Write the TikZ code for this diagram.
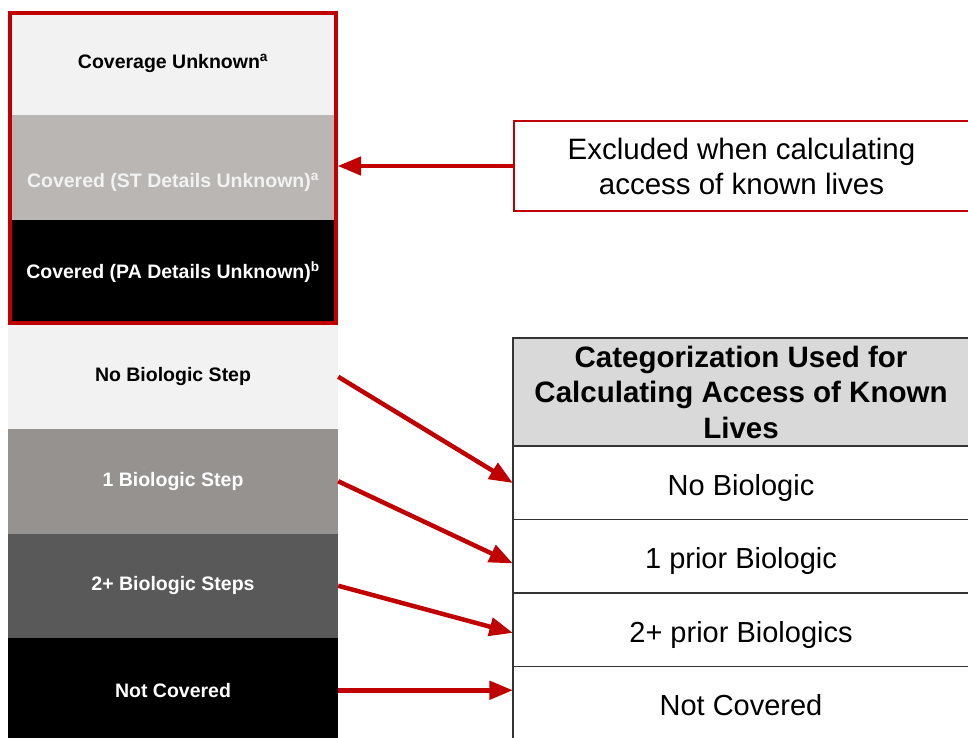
\documentclass[tikz,border=0pt]{standalone}
\usepackage{fontspec}
\setmainfont{Liberation Sans}
\usetikzlibrary{arrows,fit}

\definecolor{exred}{HTML}{C00000}
\definecolor{tierlight}{HTML}{F2F2F2}
\definecolor{tiergray}{HTML}{BAB6B4}
\definecolor{tiermid}{HTML}{96928F}
\definecolor{tierdark}{HTML}{595959}
\definecolor{hdrgray}{HTML}{D9D9D9}

\begin{document}
\begin{tikzpicture}[x=1pt,y=-1pt,
	tier/.style={rectangle, minimum width=330pt, minimum height=104.5pt, inner sep=0pt,
		font=\bfseries\fontsize{19.5}{23}\selectfont},
	catrow/.style={rectangle, draw=black!80, line width=1.2pt, fill=white,
		minimum width=456pt, minimum height=73.5pt, inner sep=0pt,
		text height=25pt, text depth=0pt, font=\fontsize{29}{35}\selectfont},
	link/.style={draw=exred, line width=4.5pt, -triangle 45}]
	\useasboundingbox (0,0) rectangle (968,738);
	\node[tier, fill=tierlight] (cu) at (173,63.25) {Coverage Unknown\textsuperscript{a}};
	\node[tier, fill=tiergray, text=tierlight, text height=44pt] (st) at (173,167.75) {Covered (ST Details Unknown)\textsuperscript{a}};
	\node[tier, fill=black, text=white] (pa) at (173,272.25) {Covered (PA Details Unknown)\textsuperscript{b}};
	\node[tier, fill=tierlight] (nb) at (173,376.75) {No Biologic Step};
	\node[tier, fill=tiermid, text=white] (ob) at (173,481.25) {1 Biologic Step};
	\node[tier, fill=tierdark, text=white] (tb) at (173,585.75) {2+ Biologic Steps};
	\node[tier, fill=black, text=white] (nc) at (173,690.25) {Not Covered};
	\node[fit=(cu)(pa), inner sep=-2pt, draw=exred, line width=4pt] (known) {};
	% right side
	\node[draw=exred, line width=1.5pt, minimum width=455pt, minimum height=90pt, align=center,
		font=\fontsize{29.5}{35}\selectfont] (excl) at (741.5,166) {Excluded when calculating\\access of known lives};
	\node[catrow, fill=hdrgray, minimum height=108pt, text height=, text depth=, align=center,
		font=\bfseries\fontsize{29.5}{35.5}\selectfont]
		(hdr) at (741,392) {Categorization Used for\\Calculating Access of Known\\Lives};
	\node[catrow] (r1) at (741,482.75) {No Biologic};
	\node[catrow] (r2) at (741,556.25) {1 prior Biologic};
	\node[catrow] (r3) at (741,629.75) {2+ prior Biologics};
	\node[catrow] (r4) at (741,703.25) {Not Covered};
	\draw[link] (excl.west) -- (excl.west -| known.east);
	\draw[link] (nb.east) -- (r1.west);
	\draw[link] (ob.east) -- ([yshift=-7pt]r2.west);
	\draw[link] (tb.east) -- ([yshift=-3pt]r3.west);
	\draw[link] (nc.east) -- (nc.east -| r4.west);
\end{tikzpicture}
\end{document}
